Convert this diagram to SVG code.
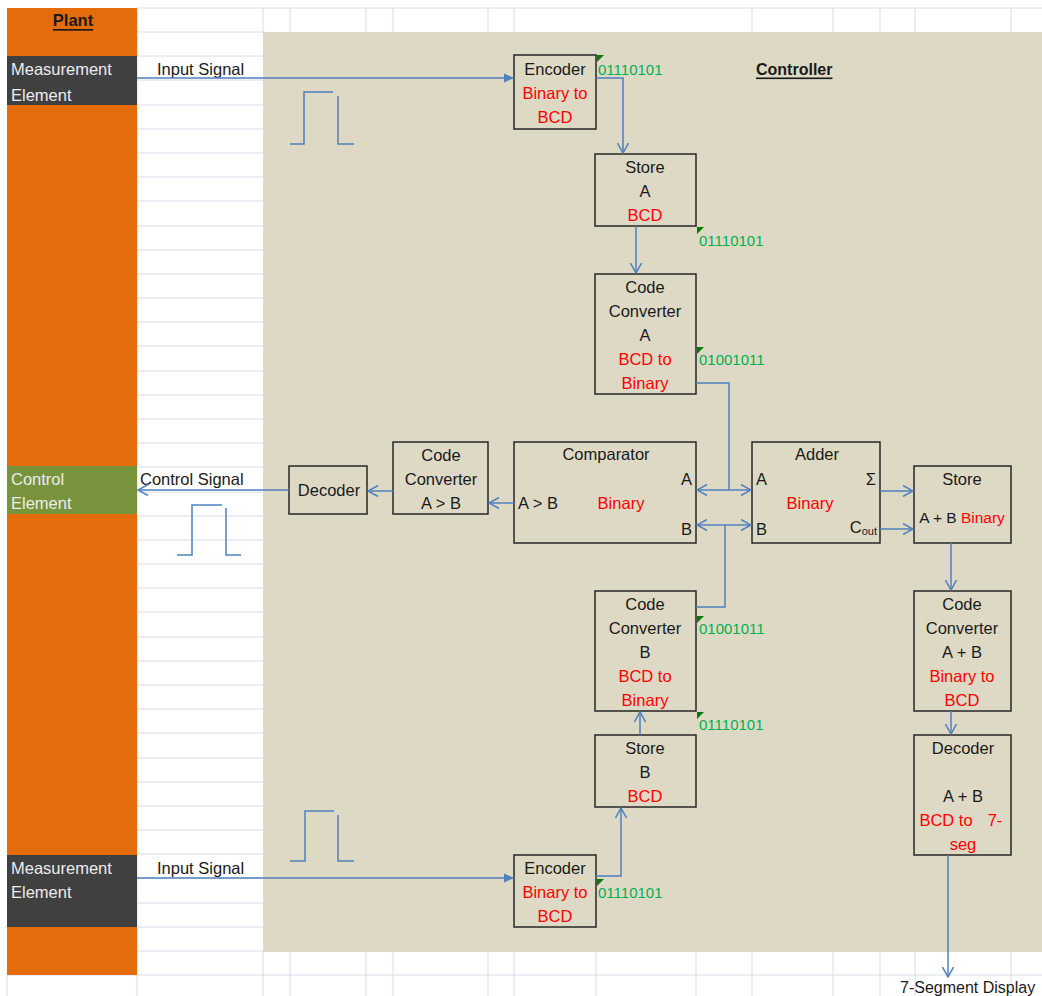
<svg xmlns="http://www.w3.org/2000/svg" width="1042" height="996" viewBox="0 0 1042 996">
<defs>
<style>
text{font-family:"Liberation Sans",Arial,sans-serif;font-size:16.5px;fill:#1a1a1a;dominant-baseline:central}
.c{text-anchor:middle}
.r{fill:#ff0000}
.g{fill:#00b050;font-size:15px}
.w{fill:#ececec}
.grid{stroke:#d6dce6;stroke-width:1;fill:none}
.box{fill:none;stroke:#262626;stroke-width:1.5}
.ln{fill:none;stroke:#4f81bd;stroke-width:1.5}
.tri{fill:#007a00}
.hd{font-weight:bold;text-decoration:underline}
.sub{font-size:11px}
.sm{font-size:15.5px}
.md{font-size:16px}
</style>
<marker id="oa" viewBox="0 0 12 12" refX="11" refY="6" markerWidth="12" markerHeight="12" markerUnits="userSpaceOnUse" orient="auto-start-reverse">
<path d="M1,0.5 L11,6 L1,11.5" fill="none" stroke="#4f81bd" stroke-width="1.5"/>
</marker>
<marker id="fa" viewBox="0 0 10 10" refX="10" refY="5" markerWidth="10" markerHeight="10" markerUnits="userSpaceOnUse" orient="auto">
<path d="M0,0.5 L10,5 L0,9.5 z" fill="#4f81bd"/>
</marker>
</defs>
<rect x="0" y="0" width="1042" height="996" fill="#ffffff"/>
<g id="grid" class="grid">
<path d="M137,8 H1042"/>
<path d="M137,32 H263 M137,56 H263 M137,80 H263 M137,105 H263 M137,129 H263 M137,153 H263 M137,177 H263 M137,201 H263 M137,226 H263 M137,250 H263 M137,274 H263 M137,298 H263 M137,322 H263 M137,346 H263 M137,371 H263 M137,395 H263 M137,419 H263 M137,443 H263 M137,467 H263 M137,492 H263 M137,516 H263 M137,540 H263 M137,564 H263 M137,588 H263 M137,612 H263 M137,637 H263 M137,661 H263 M137,685 H263 M137,709 H263 M137,733 H263 M137,758 H263 M137,782 H263 M137,806 H263 M137,830 H263 M137,854 H263 M137,878 H263 M137,903 H263 M137,927 H263"/>
<path d="M137,951 H1042 M7,975 H1042"/>
<path d="M263,8 V32 M290,8 V32 M366,8 V32 M393,8 V32 M488,8 V32 M514,8 V32 M752,8 V32 M833,8 V32 M880,8 V32 M915,8 V32 M1011,8 V32"/>
<path d="M7,975 V996 M137,8 V996 M263,951 V996 M290,951 V996 M366,951 V996 M393,951 V996 M488,951 V996 M514,951 V996 M596,951 V996 M696,951 V996 M752,951 V996 M833,951 V996 M880,951 V996 M915,951 V996 M1011,951 V996"/>
</g>
<g id="plant">
<rect x="7" y="8" width="130" height="967" fill="#e46c0a"/>
<text class="c hd" x="73" y="20">Plant</text>
</g>
<g id="measurement-top">
<rect x="7" y="56" width="130" height="49" fill="#404040"/>
<text class="w" x="11" y="69">Measurement</text>
<text class="w" x="11" y="95">Element</text>
</g>
<g id="control-element">
<rect x="7" y="466" width="130" height="48" fill="#77933c"/>
<text class="w" x="11" y="479">Control</text>
<text class="w" x="11" y="503">Element</text>
</g>
<g id="measurement-bottom">
<rect x="7" y="855" width="130" height="72" fill="#404040"/>
<text class="w" x="11" y="868">Measurement</text>
<text class="w" x="11" y="892">Element</text>
</g>
<g id="controller">
<rect x="263" y="32" width="779" height="920" fill="#ddd9c4"/>
<text class="hd md" x="756" y="69">Controller</text>
</g>
<g id="labels">
<text x="157" y="69">Input Signal</text>
<text x="140" y="479">Control Signal</text>
<text x="157" y="868">Input Signal</text>
<text class="md" x="900" y="987">7-Segment Display</text>
</g>
<g id="pulses" class="ln">
<polyline points="290,144 304,144 304,92 333,92"/>
<polyline points="338,96 338,144 354,144"/>
<polyline points="177,555 192,555 192,505 222,505"/>
<polyline points="226,508 226,555 241,555"/>
<polyline points="290,861 305,861 305,811 334,811"/>
<polyline points="338,815 338,861 354,861"/>
</g>
<g id="encoder-top">
<rect class="box" x="514" y="55" width="82" height="74"/>
<text class="c" x="555" y="69">Encoder</text>
<text class="c r" x="555" y="93">Binary to</text>
<text class="c r" x="555" y="117">BCD</text>
<path class="tri" d="M597,55 h7 l-7,7 z"/>
<text class="g" x="598" y="69">01110101</text>
</g>
<g id="store-a">
<rect class="box" x="595" y="154" width="101" height="72"/>
<text class="c" x="645" y="167">Store</text>
<text class="c" x="645" y="191">A</text>
<text class="c r" x="645" y="215">BCD</text>
<path class="tri" d="M697,227 h7 l-7,7 z"/>
<text class="g" x="699" y="240">01110101</text>
</g>
<g id="code-converter-a">
<rect class="box" x="595" y="274" width="101" height="120"/>
<text class="c" x="645" y="287">Code</text>
<text class="c" x="645" y="311">Converter</text>
<text class="c" x="645" y="335">A</text>
<text class="c r" x="645" y="359">BCD to</text>
<text class="c r" x="645" y="383">Binary</text>
<path class="tri" d="M697,347 h7 l-7,7 z"/>
<text class="g" x="699" y="359">01001011</text>
</g>
<g id="comparator">
<rect class="box" x="514" y="442" width="182" height="101"/>
<text class="c" x="606" y="454">Comparator</text>
<text x="692" y="479" text-anchor="end">A</text>
<text x="518" y="503">A &gt; B</text>
<text class="c r" x="621" y="503">Binary</text>
<text x="692" y="529" text-anchor="end">B</text>
</g>
<g id="adder">
<rect class="box" x="752" y="442" width="128" height="101"/>
<text class="c" x="817" y="454">Adder</text>
<text x="756" y="479">A</text>
<text x="876" y="479" text-anchor="end">Σ</text>
<text class="c r" x="810" y="503">Binary</text>
<text x="756" y="529">B</text>
<text x="877" y="527" text-anchor="end">C<tspan class="sub" dy="4">out</tspan></text>
</g>
<g id="store-ab">
<rect class="box" x="914" y="466" width="97" height="77"/>
<text class="c" x="962" y="479">Store</text>
<text class="c sm" x="962" y="517">A + B <tspan class="r">Binary</tspan></text>
</g>
<g id="code-converter-agtb">
<rect class="box" x="393" y="442" width="95" height="72"/>
<text class="c" x="441" y="455">Code</text>
<text class="c" x="441" y="479">Converter</text>
<text class="c" x="441" y="503">A &gt; B</text>
</g>
<g id="decoder">
<rect class="box" x="289" y="466" width="78" height="48"/>
<text class="c" x="329" y="490">Decoder</text>
</g>
<g id="code-converter-b">
<rect class="box" x="595" y="591" width="101" height="120"/>
<text class="c" x="645" y="604">Code</text>
<text class="c" x="645" y="628">Converter</text>
<text class="c" x="645" y="652">B</text>
<text class="c r" x="645" y="676">BCD to</text>
<text class="c r" x="645" y="700">Binary</text>
<path class="tri" d="M697,616 h7 l-7,7 z"/>
<text class="g" x="699" y="628">01001011</text>
<path class="tri" d="M697,712 h7 l-7,7 z"/>
<text class="g" x="699" y="724">01110101</text>
</g>
<g id="store-b">
<rect class="box" x="595" y="735" width="101" height="72"/>
<text class="c" x="645" y="748">Store</text>
<text class="c" x="645" y="772">B</text>
<text class="c r" x="645" y="796">BCD</text>
</g>
<g id="code-converter-ab">
<rect class="box" x="914" y="591" width="97" height="120"/>
<text class="c" x="962" y="604">Code</text>
<text class="c" x="962" y="628">Converter</text>
<text class="c" x="962" y="652">A + B</text>
<text class="c r" x="962" y="676">Binary to</text>
<text class="c r" x="962" y="700">BCD</text>
</g>
<g id="decoder-ab">
<rect class="box" x="914" y="735" width="97" height="120"/>
<text class="c" x="963" y="748">Decoder</text>
<text class="c" x="963" y="796">A + B</text>
<text class="c r" x="946" y="820">BCD to</text>
<text class="c r" x="995" y="820">7-</text>
<text class="c r" x="963" y="844">seg</text>
</g>
<g id="encoder-bottom">
<rect class="box" x="514" y="855" width="82" height="72"/>
<text class="c" x="555" y="868">Encoder</text>
<text class="c r" x="555" y="892">Binary to</text>
<text class="c r" x="555" y="916">BCD</text>
<path class="tri" d="M597,879 h7 l-7,7 z"/>
<text class="g" x="598" y="892">01110101</text>
</g>
<g id="connectors" class="ln">
<path d="M137,78 H514" marker-end="url(#fa)"/>
<path d="M596,78 H623 V153" marker-end="url(#oa)"/>
<path d="M636,226 V273" marker-end="url(#oa)"/>
<path d="M696,383 H729 V490"/>
<path d="M697,490 H751" marker-start="url(#oa)" marker-end="url(#oa)"/>
<path d="M697,525 H751" marker-start="url(#oa)" marker-end="url(#oa)"/>
<path d="M725,525 V607 H696"/>
<path d="M514,503 H489" marker-end="url(#oa)"/>
<path d="M393,491 H368" marker-end="url(#oa)"/>
<path d="M289,490 H138" marker-end="url(#oa)"/>
<path d="M880,491 H913" marker-end="url(#oa)"/>
<path d="M880,529 H913" marker-end="url(#oa)"/>
<path d="M951,543 V590" marker-end="url(#oa)"/>
<path d="M951,711 V734" marker-end="url(#oa)"/>
<path d="M948,855 V977" marker-end="url(#oa)"/>
<path d="M137,878 H514" marker-end="url(#fa)"/>
<path d="M596,876 H621 V808" marker-end="url(#oa)"/>
<path d="M640,735 V712" marker-end="url(#oa)"/>
</g>
</svg>
